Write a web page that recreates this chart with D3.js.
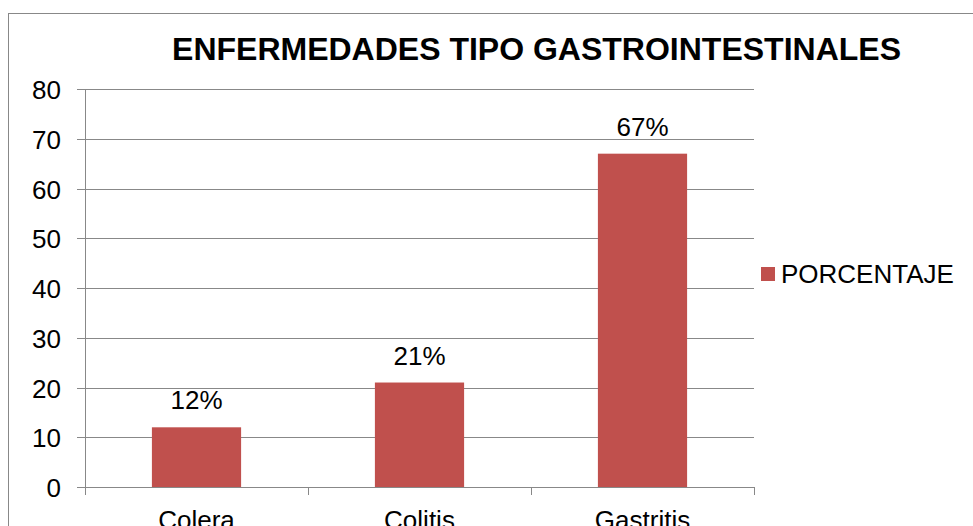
<!DOCTYPE html>
<html>
<head>
<meta charset="utf-8">
<script src="https://cdn.jsdelivr.net/npm/d3@7"></script>
<style>
  body { margin: 0; background: #fff; }
  svg { display: block; font-family: "Liberation Sans", Arial, sans-serif; }
</style>
</head>
<body>
<div id="chart"></div>
<script>
// Chart data
const categories = ["Colera", "Colitis", "Gastritis"];
const values = [12, 21, 67];
const valueLabels = ["12%", "21%", "67%"];
const yTicks = [0, 10, 20, 30, 40, 50, 60, 70, 80];
const seriesName = "PORCENTAJE";
const title = "ENFERMEDADES TIPO GASTROINTESTINALES";

(function() {
  const W = 973, H = 526;
  const plot = { left: 85, right: 754, top: 89, bottom: 487 };
  const barColor = "#c0504d";
  const gridColor = "#888888";

  const svg = d3.select("#chart").append("svg")
    .attr("width", W).attr("height", H);

  // Outer chart frame (right/bottom edges fall outside the view)
  svg.append("rect")
    .attr("x", 8.5).attr("y", 13.5)
    .attr("width", W + 20).attr("height", H + 20)
    .attr("fill", "none").attr("stroke", gridColor).attr("stroke-width", 1);

  const x = d3.scaleBand().domain(categories)
    .range([plot.left, plot.right])
    .paddingInner(0.6).paddingOuter(0.3);
  const y = d3.scaleLinear().domain([0, 80]).range([plot.bottom, plot.top]);

  // Gridlines + y axis
  const yAxis = svg.append("g")
    .attr("transform", `translate(${plot.left},0)`)
    .call(d3.axisLeft(y).tickValues(yTicks).tickSizeOuter(0).tickSize(8).tickPadding(16));
  yAxis.select(".domain").remove();
  yAxis.selectAll(".tick line").attr("stroke", gridColor).attr("stroke-width", 1);
  yAxis.selectAll(".tick text")
    .style("font-size", "26px").attr("fill", "#000").attr("dy", "0.36em");

  svg.append("g").selectAll("line").data(yTicks).enter().append("line")
    .attr("x1", plot.left).attr("x2", plot.right)
    .attr("y1", d => Math.round(y(d)) + 0.5).attr("y2", d => Math.round(y(d)) + 0.5)
    .attr("stroke", gridColor).attr("stroke-width", 1);
  yAxis.selectAll(".tick").attr("transform", d => `translate(0,${Math.round(y(d)) + 0.5})`);

  // Vertical axis line
  svg.append("line")
    .attr("x1", plot.left + 0.5).attr("x2", plot.left + 0.5)
    .attr("y1", plot.top).attr("y2", plot.bottom + 8)
    .attr("stroke", gridColor).attr("stroke-width", 1);

  // Category boundary ticks
  const step = x.step();
  const bounds = [plot.left].concat(categories.map(c => x(c) + x.bandwidth() + (step - x.bandwidth()) / 2));
  svg.append("g").selectAll("line").data(bounds).enter().append("line")
    .attr("x1", d => Math.round(d) + 0.5).attr("x2", d => Math.round(d) + 0.5)
    .attr("y1", plot.bottom).attr("y2", plot.bottom + 8)
    .attr("stroke", gridColor).attr("stroke-width", 1);

  // Bars
  svg.append("g").selectAll("rect").data(values).enter().append("rect")
    .attr("x", (d, i) => x(categories[i]))
    .attr("y", d => y(d))
    .attr("width", x.bandwidth())
    .attr("height", d => y(0) - y(d))
    .attr("fill", barColor);

  // Data labels
  svg.append("g").selectAll("text").data(values).enter().append("text")
    .attr("x", (d, i) => x(categories[i]) + x.bandwidth() / 2)
    .attr("y", d => y(d) - 18)
    .attr("text-anchor", "middle")
    .style("font-size", "26px").attr("fill", "#000")
    .text((d, i) => valueLabels[i]);

  // Category labels (cut by the bottom edge, as in the source)
  svg.append("g").selectAll("text").data(categories).enter().append("text")
    .attr("x", d => x(d) + x.bandwidth() / 2)
    .attr("y", plot.bottom + 42)
    .attr("text-anchor", "middle")
    .style("font-size", "26px").attr("fill", "#000")
    .text(d => d);

  // Title
  svg.append("text")
    .attr("x", 536.5).attr("y", 60)
    .attr("text-anchor", "middle")
    .style("font-size", "32px").style("font-weight", "bold").attr("fill", "#000")
    .text(title);

  // Legend
  svg.append("rect").attr("x", 761).attr("y", 267).attr("width", 14).attr("height", 14).attr("fill", barColor);
  svg.append("text").attr("x", 781).attr("y", 283)
    .style("font-size", "26px").attr("fill", "#000").text(seriesName);
})();
</script>
</body>
</html>
